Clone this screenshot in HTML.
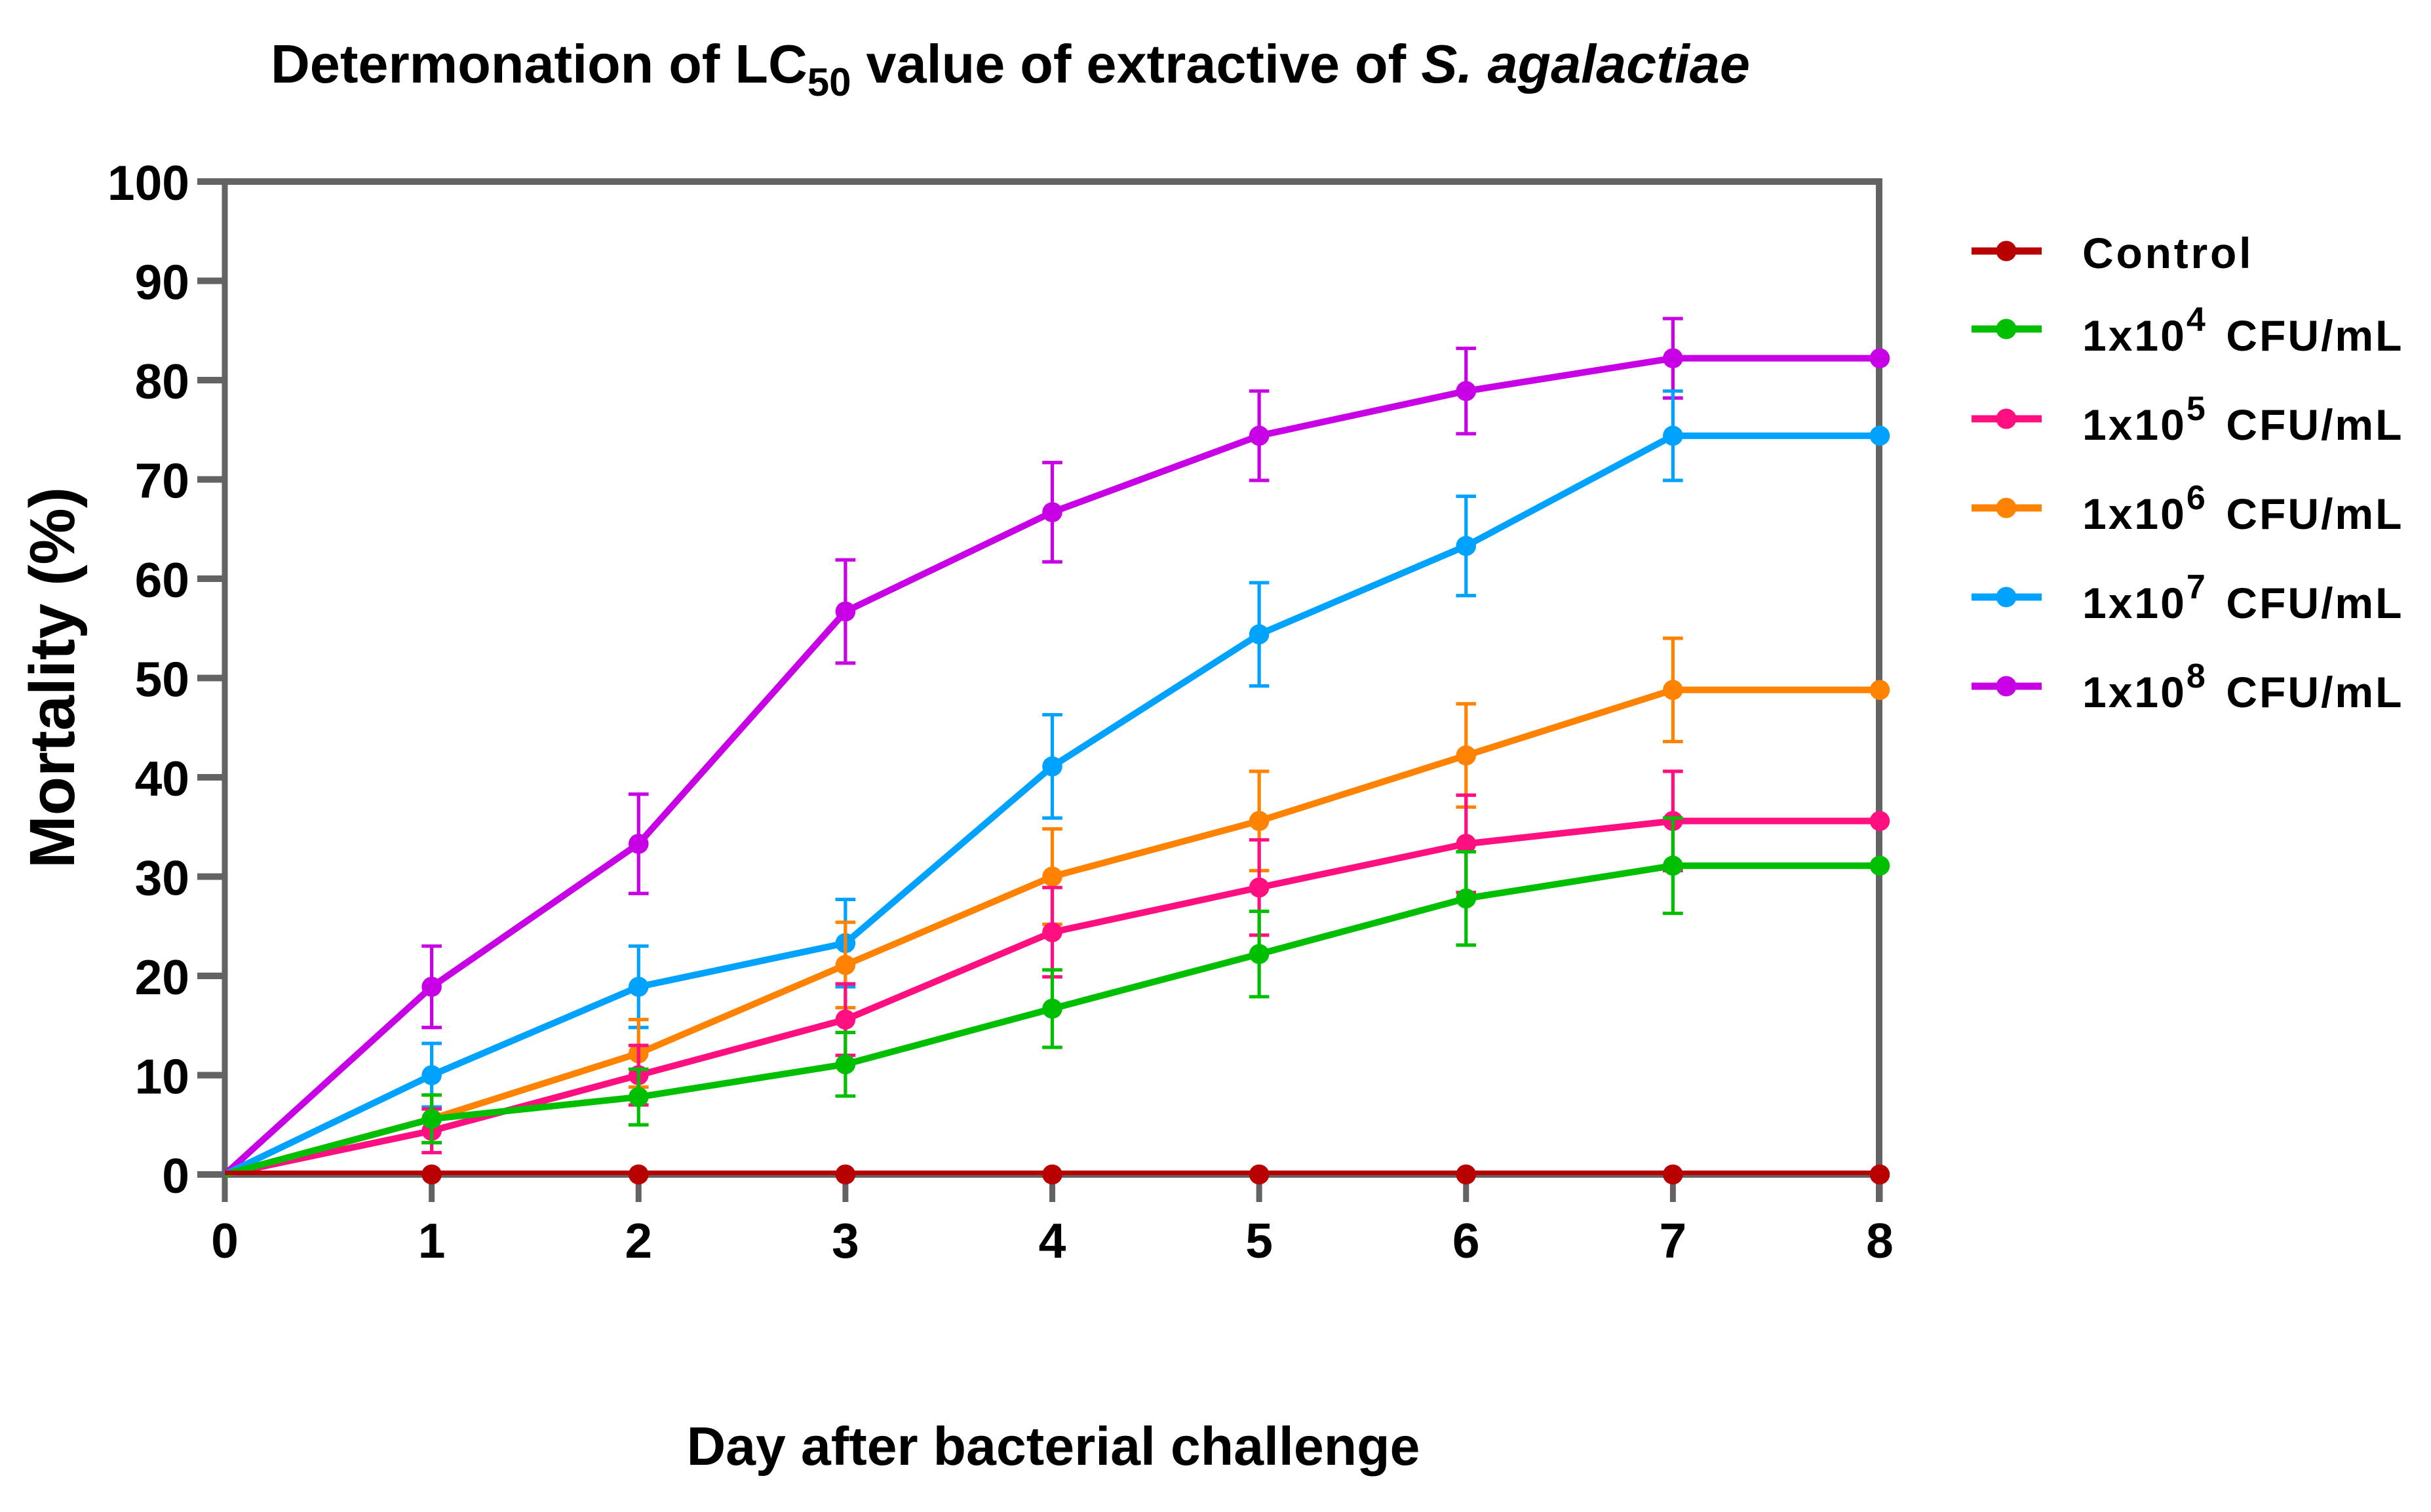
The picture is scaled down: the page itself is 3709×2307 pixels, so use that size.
<!DOCTYPE html>
<html lang="en">
<head>
<meta charset="utf-8">
<title>Determonation of LC50 value</title>
<style>
html,body{margin:0;padding:0;background:#fff}
svg{display:block}
text{font-family:"Liberation Sans",Arial,sans-serif;font-weight:700;fill:#000}
</style>
</head>
<body>
<svg id="chart" xmlns="http://www.w3.org/2000/svg" width="3709" height="2307" viewBox="0 0 3709 2307">
  <rect width="3709" height="2307" fill="#fff"/>
  <text x="413" y="126" font-size="82.8">Determonation of LC<tspan dy="20" font-size="60">50</tspan><tspan dy="-20"> value of extractive of </tspan><tspan font-style="italic">S. agalactiae</tspan></text>
  <text transform="translate(113,1034) rotate(-90)" text-anchor="middle" font-size="97">Mortality (%)</text>
  <text x="1607" y="2235" text-anchor="middle" font-size="82.5">Day after bacterial challenge</text>
  <g id="axes"></g>
  <g id="series"></g>
  <g id="legend">
    <text x="3177" y="409" font-size="66" letter-spacing="3.8">Control</text>
    <text x="3177" y="535" font-size="66" letter-spacing="3">1x10<tspan dy="-30" font-size="52">4</tspan><tspan dy="30" dx="-14" xml:space="preserve">  CFU/mL</tspan></text>
    <text x="3177" y="671" font-size="66" letter-spacing="3">1x10<tspan dy="-30" font-size="52">5</tspan><tspan dy="30" dx="-14" xml:space="preserve">  CFU/mL</tspan></text>
    <text x="3177" y="807" font-size="66" letter-spacing="3">1x10<tspan dy="-30" font-size="52">6</tspan><tspan dy="30" dx="-14" xml:space="preserve">  CFU/mL</tspan></text>
    <text x="3177" y="943" font-size="66" letter-spacing="3">1x10<tspan dy="-30" font-size="52">7</tspan><tspan dy="30" dx="-14" xml:space="preserve">  CFU/mL</tspan></text>
    <text x="3177" y="1079" font-size="66" letter-spacing="3">1x10<tspan dy="-30" font-size="52">8</tspan><tspan dy="30" dx="-14" xml:space="preserve">  CFU/mL</tspan></text>
  </g>
</svg>
<script>
const days = [0, 1, 2, 3, 4, 5, 6, 7, 8];
const yTicks = [0, 10, 20, 30, 40, 50, 60, 70, 80, 90, 100];
const control = [0, 0, 0, 0, 0, 0, 0, 0, 0];
const cfu1e4 = [0, 5.6, 7.8, 11.1, 16.7, 22.2, 27.8, 31.1, 31.1];
const cfu1e5 = [0, 4.4, 10, 15.6, 24.4, 28.9, 33.3, 35.6, 35.6];
const cfu1e6 = [0, 5.6, 12.2, 21.1, 30, 35.6, 42.2, 48.8, 48.8];
const cfu1e7 = [0, 10, 18.9, 23.3, 41.1, 54.4, 63.3, 74.4, 74.4];
const cfu1e8 = [0, 18.9, 33.3, 56.7, 66.7, 74.4, 78.9, 82.2, 82.2];
const err1e4 = [0, 2.4, 2.8, 3.2, 3.9, 4.3, 4.7, 4.8, 0];
const err1e5 = [0, 2.2, 3.0, 3.6, 4.5, 4.8, 4.9, 5.0, 0];
const err1e6 = [0, 2.4, 3.4, 4.3, 4.8, 5.0, 5.2, 5.2, 0];
const err1e7 = [0, 3.2, 4.1, 4.4, 5.2, 5.2, 5.0, 4.5, 0];
const err1e8 = [0, 4.1, 5.0, 5.2, 5.0, 4.5, 4.3, 4.0, 0];
const errControl = [0, 0, 0, 0, 0, 0, 0, 0, 0];

const NS = 'http://www.w3.org/2000/svg';
const X0 = 343, XW = 2525, Y0 = 1792, Y100 = 277;
const AXIS = '#636363';
const xScale = d => X0 + (d / 8) * XW;
const yScale = v => Y0 - (v / 100) * (Y0 - Y100);

function mk(parent, tag, attrs) {
  const e = document.createElementNS(NS, tag);
  for (const k in attrs) e.setAttribute(k, attrs[k]);
  parent.appendChild(e);
  return e;
}

const axes = document.getElementById('axes');
const seriesRoot = document.getElementById('series');
const legend = document.getElementById('legend');

// Axis frame
let axisEl;
axisEl = mk(axes, 'line', {x1: 301, x2: 2872, y1: Y100, y2: Y100, stroke: AXIS, 'stroke-width': 10});


axisEl = mk(axes, 'line', {x1: X0, x2: X0, y1: Y100, y2: 1834, stroke: AXIS, 'stroke-width': 9});


axisEl = mk(axes, 'line', {x1: 2867, x2: 2867, y1: Y100 - 5, y2: 1834, stroke: AXIS, 'stroke-width': 10});


axisEl = mk(axes, 'line', {x1: 301, x2: 2872, y1: Y0, y2: Y0, stroke: AXIS, 'stroke-width': 10});



yTicks.forEach(t => {
  const tick = mk(axes, 'line', {x1: 301, x2: X0, y1: yScale(t), y2: yScale(t), stroke: AXIS, 'stroke-width': 10});
  
  
  const label = mk(axes, 'text', {x: 289, y: yScale(t) + 28, 'text-anchor': 'end', 'font-size': 75});
  
  
  label.textContent = t;
});

days.forEach(d => {
  const tick = mk(axes, 'line', {x1: xScale(d), x2: xScale(d), y1: Y0, y2: 1834, stroke: AXIS, 'stroke-width': 9});
  
  
  const label = mk(axes, 'text', {x: xScale(d), y: 1919, 'text-anchor': 'middle', 'font-size': 75});
  
  
  label.textContent = d;
});

function drawSeries(name, values, errors, color, width, lineShift) {
  const g = mk(seriesRoot, 'g', {});
  
  

  const pts = values.map((v, i) => xScale(days[i]) + ',' + (yScale(v) + lineShift)).join(' ');
  const line = mk(g, 'polyline', {points: pts, fill: 'none', stroke: color, 'stroke-width': width, 'stroke-linejoin': 'round'});
  
  

  values.forEach((v, i) => {
    if (days[i] === 0) return;
    const pt = mk(g, 'circle', {cx: xScale(days[i]), cy: yScale(v), r: 15.3, fill: color});
    
    
  });

  values.forEach((v, i) => {
    if (!errors[i]) return;
    const x = xScale(days[i]);
    const hi = yScale(v + errors[i]);
    const lo = yScale(v - errors[i]);
    const bar = mk(g, 'path', {
      d: 'M' + x + ' ' + lo + 'V' + hi + 'M' + (x - 15.3) + ' ' + hi + 'H' + (x + 15.3) + 'M' + (x - 15.3) + ' ' + lo + 'H' + (x + 15.3),
      fill: 'none', stroke: color, 'stroke-width': 5.2
    });
    
    
  });
}

drawSeries('1e8', cfu1e8, err1e8, '#C800E6', 10, 0);
drawSeries('1e7', cfu1e7, err1e7, '#00A2FF', 10, 0);
drawSeries('1e6', cfu1e6, err1e6, '#FF8200', 10, 0);
drawSeries('1e5', cfu1e5, err1e5, '#FF0F80', 10, 0);
drawSeries('1e4', cfu1e4, err1e4, '#00BE00', 10, 0);
drawSeries('control', control, errControl, '#B80000', 7, -2.5);

function drawKey(name, y, color) {
  const line = mk(legend, 'line', {x1: 3008, x2: 3115, y1: y, y2: y, stroke: color, 'stroke-width': 11});
  
  
  const dot = mk(legend, 'circle', {cx: 3061, cy: y, r: 15.5, fill: color});
  
  
}
drawKey('control', 383, '#B80000');
drawKey('1e4', 502, '#00BE00');
drawKey('1e5', 639, '#FF0F80');
drawKey('1e6', 775, '#FF8200');
drawKey('1e7', 911, '#00A2FF');
drawKey('1e8', 1047, '#C800E6');
</script>
</body>
</html>
